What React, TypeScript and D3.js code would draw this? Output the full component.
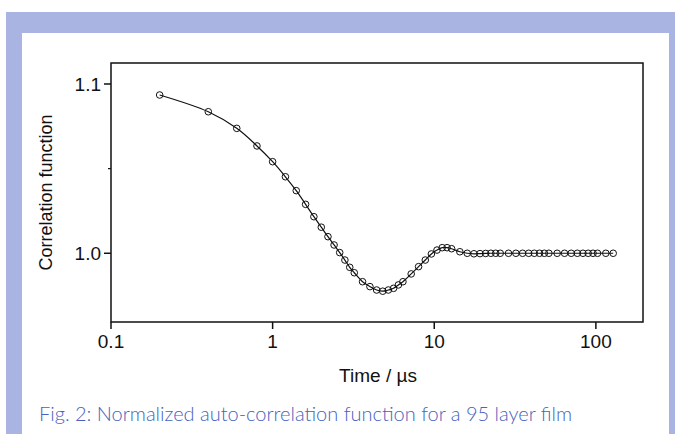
import React from "react";
import * as d3 from "d3";

const times: number[] = [
  0.2, 0.4, 0.6, 0.8, 1.0, 1.2, 1.4, 1.6, 1.8, 2.0, 2.2, 2.4, 2.6, 2.8, 3.0, 3.2,
  3.6, 4.0, 4.4, 4.8, 5.2, 5.6, 6.0, 6.4,
  7.2, 8.0, 8.8, 9.6, 10.4, 11.2, 12.0, 12.8,
  14.4, 16.0, 17.6, 19.2, 20.8, 22.4, 24.0, 25.6,
  28.8, 32.0, 35.2, 38.4, 41.6, 44.8, 48.0, 51.2,
  57.6, 64.0, 70.4, 76.8, 83.2, 89.6, 96.0, 102.4,
  115.2, 128.0,
];

const correlation: number[] = [
  1.0935, 1.0836, 1.0738, 1.0634, 1.0541, 1.0452, 1.037, 1.0289, 1.0216, 1.0154, 1.0098, 1.0049, 1.0004, 0.996, 0.9917, 0.9885,
  0.9832, 0.9803, 0.9783, 0.9776, 0.9783, 0.9793, 0.9813, 0.9832,
  0.9878, 0.9921, 0.996, 0.9996, 1.0019, 1.0033, 1.0033, 1.0027,
  1.0009, 1.0, 0.9997, 0.9998, 0.9999, 1.0, 1.0, 1.0,
  1.0, 1.0, 1.0, 1.0, 1.0, 1.0, 1.0, 1.0,
  1.0, 1.0, 1.0, 1.0, 1.0, 1.0, 1.0, 1.0,
  1.0, 1.0,
];

const xTicks: number[] = [0.1, 1, 10, 100];
const xTickLabels: string[] = ["0.1", "1", "10", "100"];
const yTicks: number[] = [1.0, 1.1];
const yTickLabels: string[] = ["1.0", "1.1"];
const yMinorTicks: number[] = [1.05];

const xLabel = "Time / µs";
const yLabel = "Correlation function";
const caption = "Fig. 2: Normalized auto-correlation function for a 95 layer film";

const W = 675;
const H = 434;
const frameColor = "#a9b4e3";
const captionColor = "#4563bd";

const plot = { left: 111, right: 643, top: 63, bottom: 322 };

export default function App() {
  const x = d3.scaleLog().domain([0.1, 195.7]).range([plot.left, plot.right]);
  const y = d3.scaleLinear().domain([0.9594, 1.1124]).range([plot.bottom, plot.top]);

  const data = times.map((t, i) => ({ t, v: correlation[i] }));
  const line = d3
    .line<{ t: number; v: number }>()
    .x((d) => x(d.t))
    .y((d) => y(d.v))
    .curve(d3.curveCatmullRom.alpha(0.5));

  const font = "'Liberation Sans', Arial, Helvetica, sans-serif";

  return (
    <svg
      width={W}
      height={H}
      style={{ position: "absolute", left: 0, top: 0, background: "#fff" }}
    >
      {/* decorative blue frame */}
      <rect x={6} y={12} width={W - 6} height={21} fill={frameColor} />
      <rect x={6} y={12} width={16} height={H - 12} fill={frameColor} />
      <rect x={669} y={12} width={W - 669} height={H - 12} fill={frameColor} />

      {/* plot frame */}
      <rect
        x={plot.left}
        y={plot.top}
        width={plot.right - plot.left}
        height={plot.bottom - plot.top}
        fill="none"
        stroke="#111"
        strokeWidth={1.5}
      />

      {/* x ticks */}
      {xTicks.map((t, i) => (
        <g key={"xt" + i}>
          <line x1={x(t)} x2={x(t)} y1={plot.bottom} y2={plot.bottom + 7} stroke="#111" strokeWidth={1.5} />
          <text
            x={x(t)}
            y={plot.bottom + 26}
            textAnchor="middle"
            fontFamily={font}
            fontSize={19}
            fill="#111"
          >
            {xTickLabels[i]}
          </text>
        </g>
      ))}

      {/* y ticks */}
      {yTicks.map((v, i) => (
        <g key={"yt" + i}>
          <line x1={plot.left - 7} x2={plot.left} y1={y(v)} y2={y(v)} stroke="#111" strokeWidth={1.5} />
          <text
            x={plot.left - 10}
            y={y(v) + 7}
            textAnchor="end"
            fontFamily={font}
            fontSize={19}
            fill="#111"
          >
            {yTickLabels[i]}
          </text>
        </g>
      ))}
      {yMinorTicks.map((v, i) => (
        <line key={"ym" + i} x1={plot.left - 3} x2={plot.left} y1={y(v)} y2={y(v)} stroke="#111" strokeWidth={1.2} />
      ))}

      {/* axis titles */}
      <text
        x={(plot.left + plot.right) / 2 + 1}
        y={382}
        textAnchor="middle"
        fontFamily={font}
        fontSize={19}
        fill="#111"
      >
        {xLabel}
      </text>
      <text
        transform={`translate(52, ${(plot.top + plot.bottom) / 2}) rotate(-90)`}
        textAnchor="middle"
        fontFamily={font}
        fontSize={18}
        fill="#111"
      >
        {yLabel}
      </text>

      {/* fitted curve */}
      <path d={line(data) ?? ""} fill="none" stroke="#111" strokeWidth={1.2} />

      {/* data points */}
      {data.map((d, i) => (
        <circle
          key={"p" + i}
          cx={x(d.t)}
          cy={y(d.v)}
          r={3.3}
          fill="none"
          stroke="#111"
          strokeWidth={1}
        />
      ))}

      {/* caption */}
      <text x={39} y={421} fontFamily="Lato, 'Open Sans', sans-serif" fontSize={20} fontWeight={300} fill={captionColor}>
        {caption}
      </text>
    </svg>
  );
}
